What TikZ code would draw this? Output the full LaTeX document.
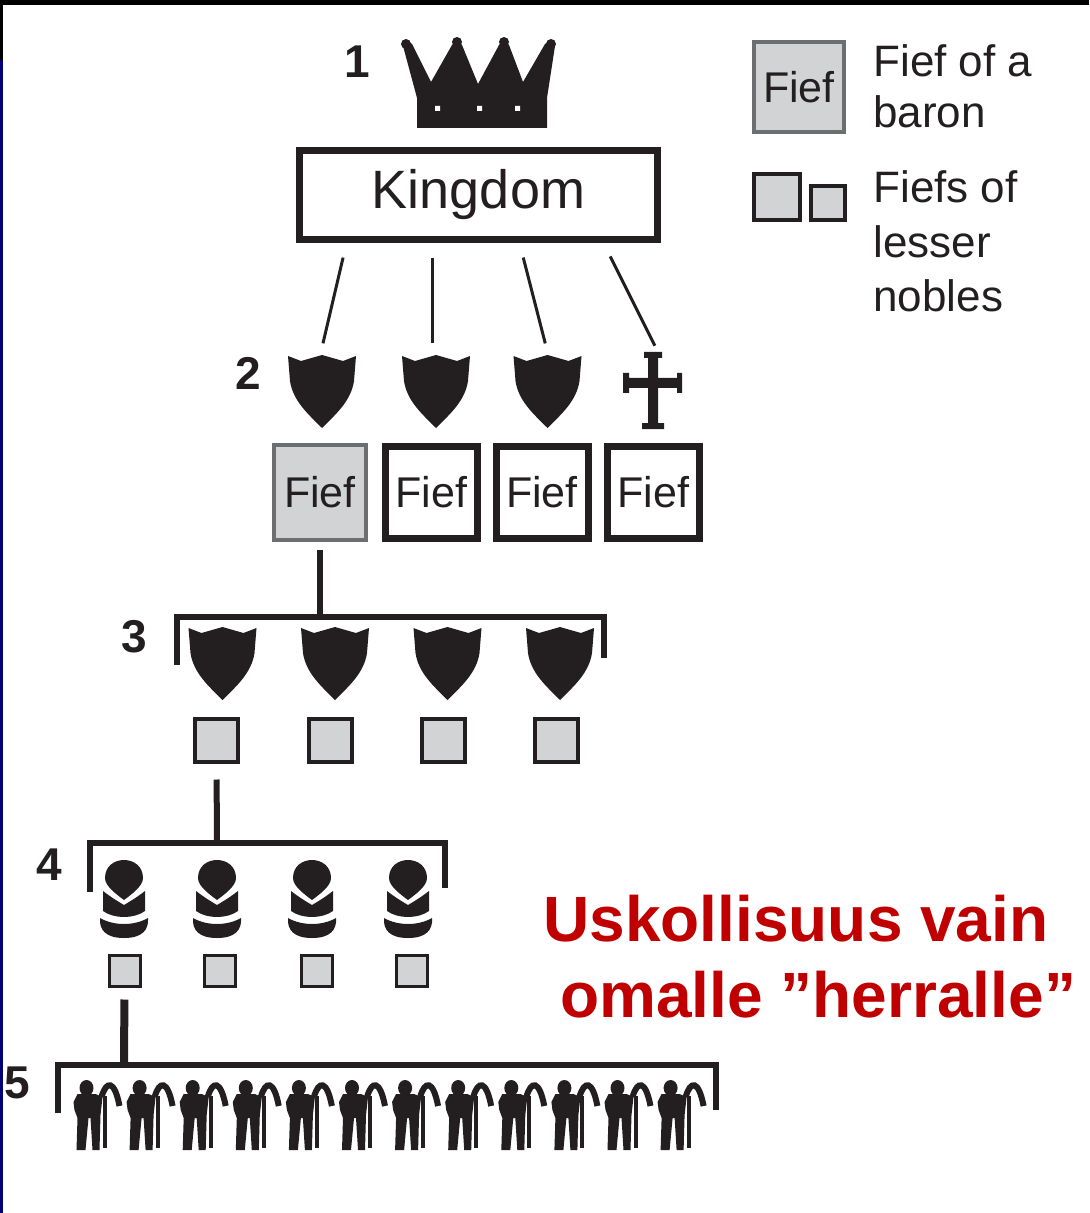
\documentclass[tikz,border=0pt]{standalone}
\usepackage{fontspec}
\setmainfont{Liberation Sans}
\usepackage{tikz}

\definecolor{ink}{HTML}{231F20}
\definecolor{fiefgray}{HTML}{D1D3D4}
\definecolor{framegray}{HTML}{6D6E71}
\definecolor{loyalred}{HTML}{C00000}
\definecolor{slidenavy}{HTML}{000078}

\tikzset{
	kshield/.pic={\fill[ink] (-34,0) -- (-21,5) -- (0,-1) -- (21,5) -- (34,0) -- (32,25) .. controls (29,45) and (14,58) .. (0,72) .. controls (-14,58) and (-29,45) .. (-32,25) -- cycle;},
	kcross/.pic={\fill[ink] (-5,-27) rectangle (5,42) (-9,-31) rectangle (9,-25) (-11,40) rectangle (11,46) (-25,-5) rectangle (25,5) (-30,-10) rectangle (-24,10) (24,-10) rectangle (29,10);},
	knight/.pic={\fill[ink] (-19,20) .. controls (-19,-4) and (19,-4) .. (19,20) .. controls (19,28) and (8,36) .. (0,42) .. controls (-8,36) and (-19,28) .. (-19,20) -- cycle;
		\fill[ink] (-21,33) .. controls (-12,40) and (-5,44) .. (0,47) .. controls (5,44) and (12,40) .. (21,33) -- (21,53) .. controls (10,61) and (-10,61) .. (-21,53) -- cycle;
		\fill[ink] (-24,60) .. controls (-10,68) and (10,68) .. (24,60) .. controls (25,72) and (18,80) .. (0,80) .. controls (-18,80) and (-25,72) .. (-24,60) -- cycle;},
	peasant/.pic={\fill[ink] (-11,8) ellipse (7 and 8);
		\fill[ink] (-24,22) -- (-20,14) -- (-2,14) -- (5,17) -- (3,35) -- (2,70) -- (-5,70) -- (-7,38) -- (-9,38) -- (-12,70) -- (-21,70) -- (-20,38) -- (-23,30) -- cycle;
		\fill[ink] (5,16) rectangle (9,68);
		\draw[ink,line width=3pt] (4,17) .. controls (9,0) and (17,0) .. (22,26);}
}

\begin{document}
\begin{tikzpicture}[x=0.5pt,y=-0.5pt]
	\tikzstyle{every node}=[text=ink,inner sep=0pt]
	\tikzstyle{num}=[font=\bfseries\fontsize{23pt}{23pt}\selectfont]
	\tikzstyle{fief}=[draw=ink,line width=3.5pt,fill=white,minimum width=46pt,minimum height=46pt,font=\fontsize{21.5pt}{21.5pt}\selectfont]
	\tikzstyle{baronfief}=[fief,draw=framegray,fill=fiefgray,line width=2pt]
	\tikzstyle{lesserfief}=[draw=ink,fill=fiefgray,line width=2pt]
	\tikzstyle{legendtext}=[anchor=base west,font=\fontsize{22pt}{22pt}\selectfont]
	\tikzstyle{loyal}=[anchor=base west,text=loyalred,font=\bfseries\fontsize{32pt}{32pt}\selectfont]
	\tikzstyle{link}=[ink,line width=1.5pt,shorten <=7.5pt,shorten >=6.5pt]
	\tikzstyle{stem}=[ink,line width=3pt]
	\tikzstyle{bracket}=[ink,line width=3pt]
	
	\useasboundingbox (0,0) rectangle (1089,1213);
	%Rand
	\fill[black] (0,0) rectangle (1089,5);
	\fill[slidenavy] (0,5) rectangle (2.5,1213);
	\fill[black] (0,0) rectangle (2.5,60);
	
	%Ebene 1
	\node[num] (n1) at (357,62) {1};
	\fill[ink] (417,128) -- (417,98) -- (403,46) -- (407,40) -- (412,44) -- (431,82) -- (452,45) -- (457,39) -- (462,45) -- (478,84) -- (499,45) -- (504,39) -- (509,45) -- (523,82) -- (545,44) -- (551,40) -- (555,46) -- (547,98) -- (547,128) -- cycle;
	\fill[ink] (406,44) circle (5) (457,42) circle (5) (504,42) circle (5) (551,44) circle (5);
	\fill[white] (435,106) rectangle (440,111) (477,106) rectangle (482,111) (515,106) rectangle (520,111);
	\node[draw=ink,line width=3.5pt,minimum width=179pt,minimum height=44.5pt,font=\fontsize{27pt}{27pt}\selectfont] (kingdom) at (478.5,195) {Kingdom};
	
	%Ebene 2
	\node[num] (n2) at (248,373) {2};
	\coordinate (s1) at (322,356);
	\coordinate (s2) at (436,356);
	\coordinate (s3) at (547.5,356);
	\coordinate (c4) at (653,352);
	\pic at (s1) {kshield};
	\pic at (s2) {kshield};
	\pic at (s3) {kshield};
	\pic at (653,383) {kcross};
	\draw[link] ([xshift=-66pt]kingdom.south) -- ([xshift=-1pt]s1);
	\draw[link] ([xshift=-23.25pt]kingdom.south) -- ([xshift=-2pt]s2);
	\draw[link] ([xshift=20.5pt]kingdom.south) -- ([xshift=0.5pt]s3);
	\draw[link,shorten >=3.5pt] ([xshift=62.5pt]kingdom.south) -- ([xshift=2.5pt]c4);
	\node[baronfief,minimum height=47.5pt] (f1) at (320,492.5) {Fief};
	\node[fief] (f2) at (431.5,492.5) {Fief};
	\node[fief] (f3) at (542,492.5) {Fief};
	\node[fief] (f4) at (653.5,492.5) {Fief};
	
	%Ebene 3
	\node[num] (n3) at (134,637) {3};
	\coordinate (b3) at (320,617);
	\draw[stem,shorten <=4pt] (f1.south) -- (b3);
	\draw[bracket] (177,665) |- (604,617) -- (604,658);
	\foreach \x in {222.5,335,447.5,560}
		\pic at (\x,628) {kshield};
	\node[lesserfief,minimum size=21.5pt] (q1) at (216.5,740) {};
	\node[lesserfief,minimum size=21.5pt] (q2) at (330,740) {};
	\node[lesserfief,minimum size=21.5pt] (q3) at (443,740) {};
	\node[lesserfief,minimum size=21.5pt] (q4) at (556.5,740) {};
	
	%Ebene 4
	\node[num] (n4) at (49,865) {4};
	\coordinate (b4) at (217,843);
	\draw[stem,shorten <=8pt] (q1.south) -- (b4);
	\draw[bracket] (90,892) |- (445,843) -- (445,888);
	\foreach \x in {124,217,312,408}
		\pic at (\x,858) {knight};
	\node[lesserfief,line width=1.5pt,minimum size=15.5pt] (r1) at (124.5,970.5) {};
	\node[lesserfief,line width=1.5pt,minimum size=15.5pt] (r2) at (220,970.5) {};
	\node[lesserfief,line width=1.5pt,minimum size=15.5pt] (r3) at (316.5,970.5) {};
	\node[lesserfief,line width=1.5pt,minimum size=15.5pt] (r4) at (411.5,970.5) {};
	
	%Ebene 5
	\node[num] (n5) at (17,1083) {5};
	\coordinate (b5) at (124,1065);
	\draw[stem,line width=4pt,shorten <=6pt] (r1.south) -- (b5);
	\draw[bracket] (58,1113) |- (716,1065) -- (716,1110);
	\foreach \i in {0,...,11}
		\pic at ({97.5+53.1*\i},1080) {peasant};
	
	%Legende
	\node[baronfief,minimum height=45pt,minimum width=45pt] (lg1) at (799,87.5) {Fief};
	\node[legendtext] (lt1) at (873,77) {Fief of a};
	\node[legendtext] (lt2) at (873,128) {baron};
	\node[lesserfief,minimum size=23pt] (lg2) at (777,197) {};
	\node[lesserfief,minimum size=17pt] (lg3) at (828,203.5) {};
	\node[legendtext] (lt3) at (873,203) {Fiefs of};
	\node[legendtext] (lt4) at (873,258) {lesser};
	\node[legendtext] (lt5) at (873,312) {nobles};
	
	%Uskollisuus
	\node[loyal] (lo1) at (543,941) {Uskollisuus vain};
	\node[loyal] (lo2) at (560,1017) {omalle ”herralle”};
\end{tikzpicture}
\end{document}
